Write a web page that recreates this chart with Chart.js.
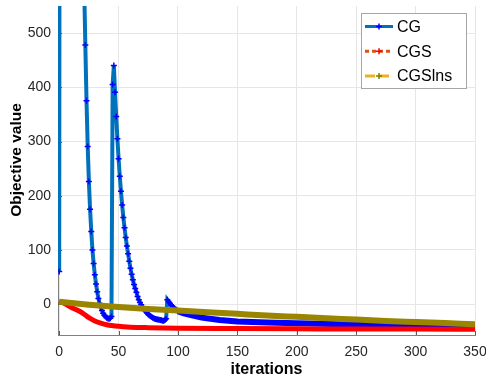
<!DOCTYPE html>
<html>
<head>
<meta charset="utf-8">
<script src="https://cdn.jsdelivr.net/npm/chart.js@4.4.1/dist/chart.umd.min.js"></script>
<style>
  html, body { margin: 0; padding: 0; background: #fff; }
  #chart { display: block; }
</style>
</head>
<body>
<canvas id="chart" width="486" height="379"></canvas>
<script>
// series names
const seriesNames = ["CG", "CGS", "CGSlns"];
const xTitle = "iterations";
const yTitle = "Objective value";

// CG: iterations and objective values (above 550 is off the chart)
const cgIter = [0, 1, 10, 20, 21,
  22, 23, 24, 25, 26, 27, 28, 29, 30, 31, 32, 33, 34, 35, 36, 37, 38, 39, 40, 41, 42, 43, 44,
  45, 46, 47, 48, 49, 50, 51, 52, 53, 54, 55, 56, 57, 58, 59, 60, 61, 62, 63, 64, 65, 66, 67,
  68, 69, 70, 71, 72, 73, 74, 75, 76, 77, 78, 79, 80, 81, 82, 83, 84, 85, 86, 87, 88, 89, 90,
  91, 92, 93, 94, 95, 96, 97, 98, 99, 100,
  105, 110, 120, 135, 150, 175, 200, 250, 300, 350];
const cgValue = [60, 2600, 1500, 700, 590,
  478, 375, 291, 226, 175, 134, 100, 75, 54, 37, 23, 10.5, 1, -6, -12, -17, -20.5, -23, -25, -26.5, -27, -26, -23,
  405, 440, 391, 346, 305, 268, 236, 208, 183, 160, 141, 123, 107, 93, 79, 66, 55, 45, 36, 29, 22, 14, 8,
  3, -1, -5, -8.5, -11.5, -14, -16.5, -19, -21, -22.5, -24, -25.5, -26.5, -27.5, -28, -28.5, -29, -29.5, -30, -30.5, -30.5, -29.5, -27,
  8, 5, 2, -1, -3.5, -6, -8, -10, -11.5, -13,
  -17, -20, -25, -29.5, -32, -34, -35.5, -37.5, -39.5, -42];

// CGS
const cgsIter = [0, 5, 10, 15, 20, 25, 30, 35, 40, 50, 60, 75, 100, 150, 200, 250, 300, 350];
const cgsValue = [5, 0.5, -6, -11, -17, -25, -31, -35, -38, -41, -42.5, -43.5, -44.5, -45, -45.5, -46, -46, -46.5];

// CGSlns
const lnsIter = [0, 25, 50, 75, 100, 125, 150, 175, 200, 225, 250, 275, 300, 325, 350];
const lnsValue = [4.5, -1, -5.5, -9, -12, -15, -18, -21, -23.5, -26, -28.5, -31, -33, -35, -37];

// ticks
const xTicks = [0, 50, 100, 150, 200, 250, 300, 350];
const yTicks = [0, 100, 200, 300, 400, 500];

const pts = (xs, ys) => xs.map((x, i) => ({ x: x, y: ys[i] }));

Chart.defaults.font.family = '"Liberation Sans", Arial, Helvetica, sans-serif';

const innerTicks = {
  id: 'innerTicks',
  beforeDatasetsDraw(chart) {
    const ctx = chart.ctx, a = chart.chartArea;
    const xs = chart.scales.x, ys = chart.scales.y;
    ctx.save();
    ctx.strokeStyle = '#5a5a5a';
    ctx.lineWidth = 1;
    ctx.beginPath();
    xTicks.forEach(v => {
      const px = Math.round(xs.getPixelForValue(v)) + 0.5;
      ctx.moveTo(px, a.bottom); ctx.lineTo(px, a.bottom - 4);
    });
    yTicks.forEach(v => {
      const py = Math.round(ys.getPixelForValue(v)) + 0.5;
      ctx.moveTo(a.left, py); ctx.lineTo(a.left + 4, py);
    });
    ctx.stroke();
    // y axis title, sits a bit above the middle like the original
    ctx.translate(16.5, 160);
    ctx.rotate(-Math.PI / 2);
    ctx.fillStyle = '#000';
    ctx.font = 'bold 15.5px "Liberation Sans", Arial, sans-serif';
    ctx.textAlign = 'center';
    ctx.textBaseline = 'middle';
    ctx.fillText(yTitle, 0, 0);
    ctx.restore();
  }
};

const legendBox = {
  id: 'legendBox',
  afterDraw(chart) {
    const ctx = chart.ctx;
    ctx.save();
    ctx.fillStyle = '#fff';
    ctx.fillRect(361.5, 13.5, 105, 75);
    ctx.strokeStyle = '#a6a6a6';
    ctx.lineWidth = 1;
    ctx.strokeRect(361.5, 13.5, 105, 75);
    chart.data.datasets.forEach((ds, i) => {
      const cy = 26.5 + i * 24.7;
      ctx.beginPath();
      ctx.setLineDash(ds.keyDash);
      ctx.strokeStyle = ds.keyLine;
      ctx.lineWidth = 3;
      ctx.moveTo(365, cy); ctx.lineTo(393, cy);
      ctx.stroke();
      ctx.setLineDash([]);
      ctx.beginPath();
      ctx.strokeStyle = ds.keyMarker;
      ctx.lineWidth = 1.5;
      ctx.moveTo(376, cy); ctx.lineTo(382, cy);
      ctx.moveTo(379, cy - 3); ctx.lineTo(379, cy + 3);
      ctx.stroke();
      ctx.fillStyle = '#000';
      ctx.font = '16px "Liberation Sans", Arial, sans-serif';
      ctx.textBaseline = 'middle';
      ctx.fillText(ds.label, 397, cy + 1);
    });
    ctx.restore();
  }
};

new Chart(document.getElementById('chart'), {
  type: 'line',
  data: {
    datasets: [
      {
        label: seriesNames[0],
        data: pts(cgIter, cgValue),
        borderColor: '#0072BD',
        borderWidth: 4,
        pointStyle: 'cross',
        pointRadius: c => (c.raw && c.raw.x <= 100) ? 3 : 0,
        pointBorderColor: '#0000FF',
        pointBorderWidth: 1.5,
        segment: {
          borderColor: c => c.p0.parsed.x >= 100 ? '#0000FF' : undefined,
          borderWidth: c => c.p0.parsed.x >= 100 ? 6 : undefined
        },
        clip: 0,
        order: 2,
        keyLine: '#0072BD', keyDash: [], keyMarker: '#0000FF'
      },
      {
        label: seriesNames[1],
        data: pts(cgsIter, cgsValue),
        borderColor: '#FF0000',
        borderWidth: 5,
        pointRadius: 0,
        cubicInterpolationMode: 'monotone',
        clip: 0,
        order: 1,
        keyLine: '#D95319', keyDash: [4, 3], keyMarker: '#FF0000'
      },
      {
        label: seriesNames[2],
        data: pts(lnsIter, lnsValue),
        borderColor: '#998500',
        borderWidth: 6,
        pointRadius: 0,
        cubicInterpolationMode: 'monotone',
        clip: 0,
        order: 0,
        keyLine: '#EDB120', keyDash: [10, 4], keyMarker: '#808000'
      }
    ]
  },
  options: {
    responsive: false,
    animation: false,
    layout: { padding: { top: 6, right: 11, left: 0, bottom: 0 } },
    plugins: { legend: { display: false }, tooltip: { enabled: false } },
    scales: {
      x: {
        type: 'linear',
        min: -1,
        max: 350,
        afterBuildTicks: s => { s.ticks = xTicks.map(v => ({ value: v })); },
        afterFit: s => { s.height = 44; s.paddingLeft = 0; s.paddingRight = 0; },
        ticks: { font: { size: 14 }, color: '#262626', padding: 9, maxRotation: 0 },
        grid: { color: '#e6e6e6', drawTicks: false },
        border: { color: '#808080' },
        title: { display: true, text: xTitle, color: '#000', font: { size: 16, weight: 'bold' }, padding: { top: 0, bottom: 0 } }
      },
      y: {
        min: -57,
        max: 550,
        afterBuildTicks: s => { s.ticks = yTicks.map(v => ({ value: v })); },
        afterFit: s => { s.width = 58; s.paddingTop = 0; s.paddingBottom = 0; },
        ticks: { font: { size: 14 }, color: '#262626', padding: 7 },
        grid: { color: '#e6e6e6', drawTicks: false },
        border: { color: '#808080' }
      }
    }
  },
  plugins: [innerTicks, legendBox]
});
</script>
</body>
</html>
